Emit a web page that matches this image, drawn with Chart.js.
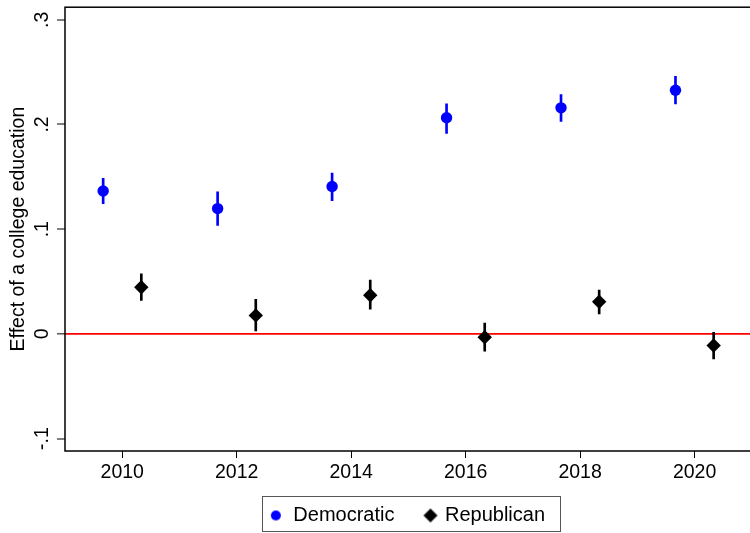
<!DOCTYPE html>
<html>
<head>
<meta charset="utf-8">
<title>Effect of a college education</title>
<script src="https://cdn.jsdelivr.net/npm/chart.js@4/dist/chart.umd.min.js"></script>
<style>
  html, body { margin: 0; padding: 0; background: #fff; overflow: hidden; }
  #wrap { width: 750px; height: 533px; overflow: hidden; position: relative; }
  canvas { display: block; }
</style>
</head>
<body>
<div id="wrap"><canvas id="c" width="759" height="536"></canvas></div>
<script>
// Survey years and estimated effects (with 95% interval bounds)
const years = [2010, 2012, 2014, 2016, 2018, 2020];

const demEstimate = [0.1365, 0.1197, 0.1408, 0.2064, 0.2159, 0.2327];
const demLower    = [0.1244, 0.1035, 0.1273, 0.1915, 0.2029, 0.2197];
const demUpper    = [0.1485, 0.1358, 0.1535, 0.2197, 0.2285, 0.2460];

const repEstimate = [0.0446, 0.0177, 0.0370, -0.0032, 0.0307, -0.0111];
const repLower    = [0.0320, 0.0028, 0.0237, -0.0165, 0.0190, -0.0238];
const repUpper    = [0.0573, 0.0330, 0.0513, 0.0104, 0.0418, 0.0015];

const seriesNames = ['Democratic', 'Republican'];
const xTicks = [2010, 2012, 2014, 2016, 2018, 2020];
const yTicks = [-0.1, 0, 0.1, 0.2, 0.3];
const yTickLabels = ['-.1', '0', '.1', '.2', '.3'];
const yTitle = 'Effect of a college education';

// horizontal dodge so the two parties sit either side of each year
const dodge = 1 / 3;

const BLUE = '#0000ff';
const BLACK = '#000000';
const FAMILY = '"Liberation Sans", Arial, Helvetica, sans-serif';
const FONT = { family: FAMILY, size: 19.5 };
const LEGEND_FONT = { family: FAMILY, size: 20 };

const pts = (est, shift) => years.map((yr, i) => ({ x: yr + shift, y: est[i] }));
const bars = (lo, hi, shift) => years.map((yr, i) => ({ x: yr + shift, y: [lo[i], hi[i]] }));

// legend symbols (drawn slightly right of the symbol slot centre)
function symbol(w, h, paint) {
  const c = document.createElement('canvas');
  c.width = w; c.height = h;
  paint(c.getContext('2d'));
  return c;
}
const demSymbol = symbol(16, 12, g => {
  g.fillStyle = BLUE; g.beginPath(); g.arc(10, 6, 5, 0, Math.PI * 2); g.fill();
});
const repSymbol = symbol(26, 16, g => {
  g.fillStyle = BLACK; g.beginPath();
  g.moveTo(18, 1); g.lineTo(25, 8); g.lineTo(18, 15); g.lineTo(11, 8); g.closePath(); g.fill();
});

// plot-region frame and legend box
const framePlugin = {
  id: 'frame',
  afterLayout(chart) {
    // nudge the legend row left to sit under the plot like a boxed key
    const lg = chart.legend;
    if (lg) { lg.left -= 3.7; lg.right -= 3.7; }
  },
  afterDraw(chart) {
    const { ctx, chartArea: a } = chart;
    ctx.save();
    ctx.strokeStyle = BLACK;
    ctx.lineWidth = 1.5;
    ctx.strokeRect(a.left, a.top, a.right - a.left, a.bottom - a.top);

    const hb = chart.legend && chart.legend.legendHitBoxes;
    if (hb && hb.length) {
      const last = hb[hb.length - 1];
      const left = hb[0].left - 2;
      const right = last.left + last.width + 15.7;
      const top = hb[0].top - 10;
      const bottom = hb[0].top + hb[0].height + 5.5;
      ctx.strokeStyle = '#555';
      ctx.lineWidth = 1;
      ctx.strokeRect(Math.round(left) + 0.5, Math.round(top) + 0.5,
                     Math.round(right - left), Math.floor(bottom - top));
    }
    ctx.restore();
  }
};

new Chart(document.getElementById('c'), {
  type: 'scatter',
  data: {
    datasets: [
      {
        label: seriesNames[0], type: 'scatter', data: pts(demEstimate, -dodge),
        pointStyle: 'circle', pointRadius: 5.7, backgroundColor: BLUE, borderColor: BLUE,
        borderWidth: 0, order: 1
      },
      {
        label: seriesNames[1], type: 'scatter', data: pts(repEstimate, dodge),
        pointStyle: 'rectRot', pointRadius: 7.2, backgroundColor: BLACK, borderColor: BLACK,
        borderWidth: 0, order: 1
      },
      {
        label: seriesNames[0] + ' CI', type: 'bar', data: bars(demLower, demUpper, -dodge),
        backgroundColor: BLUE, borderWidth: 0, barThickness: 2, grouped: false, order: 2
      },
      {
        label: seriesNames[1] + ' CI', type: 'bar', data: bars(repLower, repUpper, dodge),
        backgroundColor: BLACK, borderWidth: 0, barThickness: 2, grouped: false, order: 2
      }
    ]
  },
  options: {
    responsive: false,
    animation: false,
    events: [],
    layout: { padding: { top: 5, left: 0, right: 0, bottom: 0.5 } },
    scales: {
      x: {
        type: 'linear',
        position: 'bottom',
        min: 2009,
        max: 2021,
        offset: false,
        afterBuildTicks: s => { s.ticks = xTicks.map(v => ({ value: v })); },
        afterFit: s => { s.height = 33; s.paddingLeft = 0; s.paddingRight = 0; },
        ticks: {
          font: FONT, color: BLACK, padding: 3, maxRotation: 0, minRotation: 0,
          autoSkip: false, callback: v => String(v)
        },
        grid: {
          offset: false, drawOnChartArea: false, drawTicks: true,
          tickLength: 7, tickColor: BLACK, tickWidth: 1, color: BLACK, lineWidth: 1
        },
        border: { display: false }
      },
      y: {
        type: 'linear',
        position: 'left',
        min: -0.1118,
        max: 0.3120,
        afterBuildTicks: s => { s.ticks = yTicks.map(v => ({ value: v })); },
        afterFit: s => { s.width = 65; s.paddingTop = 0; s.paddingBottom = 0; },
        ticks: {
          font: FONT, color: BLACK, padding: 3, minRotation: 90, maxRotation: 90,
          crossAlign: 'center', autoSkip: false,
          callback: (v, i) => yTickLabels[i]
        },
        grid: {
          drawOnChartArea: true, drawTicks: true, tickLength: 8,
          tickColor: BLACK, tickWidth: 1,
          color: c => (c.tick && c.tick.value === 0 ? '#ff0000' : 'rgba(0,0,0,0)'),
          lineWidth: c => (c.tick && c.tick.value === 0 ? 1.7 : 0)
        },
        border: { display: false },
        title: {
          display: true, text: yTitle, font: FONT, color: BLACK,
          padding: { top: 7, bottom: 0 }
        }
      }
    },
    plugins: {
      tooltip: { enabled: false },
      title: { display: false },
      legend: {
        display: true,
        position: 'bottom',
        fullSize: false,
        labels: {
          font: LEGEND_FONT,
          color: BLACK,
          usePointStyle: true,
          boxWidth: 19,
          padding: 21.5,
          generateLabels(chart) {
            const items = Chart.defaults.plugins.legend.labels.generateLabels(chart);
            return items
              .filter(it => it.datasetIndex < 2)
              .sort((a, b) => a.datasetIndex - b.datasetIndex)
              .map(it => {
                it.pointStyle = it.datasetIndex === 0 ? demSymbol : repSymbol;
                it.fontColor = BLACK;
                return it;
              });
          }
        }
      }
    }
  },
  plugins: [framePlugin]
});
</script>
</body>
</html>
